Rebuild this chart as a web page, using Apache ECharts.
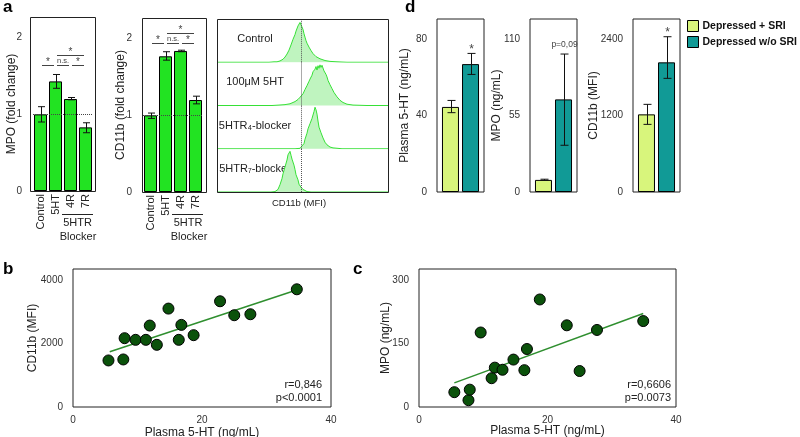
<!DOCTYPE html>
<html><head><meta charset="utf-8">
<script src="https://cdn.jsdelivr.net/npm/echarts@6/dist/echarts.min.js"></script>
<style>html,body{margin:0;padding:0;background:#fff}#c{width:800px;height:437px}</style>
</head><body><div id="c"></div>
<script>
const FONT = '"Liberation Sans", Arial, sans-serif';

// ---------- panel a : fold-change bars ----------
const catsA = ['Control', '5HT', '4R', '7R'];
const mpoFold = [1.0, 1.43, 1.2, 0.83];
const mpoFoldErr = [[0.90, 1.10], [1.34, 1.52], [1.19, 1.22], [0.76, 0.89]];
const cdFold = [1.0, 1.77, 1.84, 1.2];
const cdFoldErr = [[0.96, 1.03], [1.72, 1.83], [1.83, 1.85], [1.15, 1.25]];
// [from, to, level, text]
const sigMpo = [[0, 1, 1.65, '*'], [1, 2, 1.65, 'n.s.'], [2, 3, 1.65, '*'], [1, 3, 1.78, '*']];
const sigCd = [[0, 1, 1.94, '*'], [1, 2, 1.94, 'n.s.'], [2, 3, 1.94, '*'], [1, 3, 2.07, '*']];

// ---------- panel a : flow histograms (CD11b MFI, arbitrary units) ----------
const flowLabels = ['Control', '100\u03bcM 5HT', '5HTR\u2084-blocker', '5HTR\u2087-blocker'];
const histControl = [[0,0],[52,0],[57,1],[60,1],[63,3],[66,7],[68,12],[70,19],[72,28],[74,40],[76,53],[78,64],[79,72],[81,84],[82,88],[83,92],[84,96],[85,89],[86,76],[87,66],[88,58],[89,50],[90,44],[92,35],[94,27],[96,20],[99,13],[103,8],[108,4],[113,2],[120,1],[130,0],[171,0]];
const hist5HT = [[0,0],[55,0],[62,1],[68,2],[73,4],[78,9],[81,14],[83,19],[86,27],[88,37],[90,46],[92,56],[93,61],[95,70],[96,78],[98,84],[99,90],[100,82],[101,92],[102,86],[103,94],[104,88],[105,93],[106,90],[107,80],[108,84],[109,72],[110,66],[111,58],[112,62],[113,48],[115,39],[117,30],[120,20],[123,12],[126,7],[130,3],[136,1],[150,0],[171,0]];
const histR4 = [[0,0],[78,0],[83,1],[85,3],[87,12],[88,22],[90,36],[91,46],[93,58],[95,70],[96,78],[97,86],[98,96],[99,90],[100,80],[101,64],[102,50],[104,37],[106,25],[108,15],[110,9],[113,4],[116,2],[125,0],[171,0]];
const histR7 = [[0,0],[54,0],[58,1],[60,3],[61,6],[63,17],[65,31],[66,42],[68,58],[70,74],[71,86],[72,90],[73,94],[74,85],[75,76],[77,62],[78,52],[79,40],[81,28],[82,18],[84,11],[86,6],[88,3],[90,1],[94,0],[171,0]];
const flowRows = [histControl, hist5HT, histR4, histR7];
const flowRef = 84;

// ---------- panel d ----------
const groups = ['Depressed + SRI', 'Depressed w/o SRI'];
const plasmaD = [44.5, 66.9];
const plasmaErr = [[41.5, 47.9], [61.5, 72.5]];
const mpoD = [8.7, 66.6];
const mpoErr = [[8.3, 9.2], [33.6, 99.2]];
const cdD = [1218, 2034];
const cdErr = [[1061, 1375], [1783, 2436]];
const notesD = [['', '*'], ['', 'p=0,09'], ['', '*']];

// ---------- panels b, c ----------
const plasmaB = [5.5, 7.8, 8.0, 9.7, 11.3, 11.9, 13.0, 14.8, 16.4, 16.8, 18.7, 22.8, 25.0, 27.5, 34.7];
const cd11bB = [1466, 1497, 2167, 2115, 2115, 2565, 1958, 3099, 2115, 2586, 2262, 3330, 2890, 2921, 3707];
const trendB = [[5.7, 1738], [34.2, 3654]];
const plasmaC = [5.5, 7.7, 7.9, 9.6, 11.3, 11.8, 13.0, 14.7, 16.4, 16.8, 18.8, 23.0, 25.0, 27.7, 34.9];
const mpoC = [35, 16, 41, 176, 68, 93, 88, 112, 87, 137, 254, 193, 85, 182, 203];
const trendC = [[5.5, 57], [34.9, 221]];
const statsB = ['r=0,846', 'p<0.0001'];
const statsC = ['r=0,6606', 'p=0.0073'];

// ---------- styles ----------
const GREEN = '#22e322', LIGHT = '#d8f57c', TEAL = '#119a96';
const DOT = '#0b520b', TREND = '#2f8f2f';

const chart = echarts.init(document.getElementById('c'), null, {renderer: 'canvas'});

const grids = [
  {left: 33, top: 17, width: 60, height: 174},
  {left: 143, top: 18, width: 60, height: 174},
];
for (let k = 0; k < 4; k++) grids.push({left: 217, top: 19 + k * 43.25, width: 171, height: 43.25});
grids.push({left: 437, top: 19, width: 47, height: 173, show: true, borderColor: '#222', borderWidth: 1});
grids.push({left: 530, top: 19, width: 47, height: 173, show: true, borderColor: '#222', borderWidth: 1});
grids.push({left: 633, top: 19, width: 47, height: 173, show: true, borderColor: '#222', borderWidth: 1});
grids.push({left: 73, top: 269, width: 258, height: 138, show: true, borderColor: '#222', borderWidth: 1});
grids.push({left: 419, top: 269, width: 257, height: 138, show: true, borderColor: '#222', borderWidth: 1});
grids.forEach(g => { g.containLabel = false; g.outerBoundsMode = 'none'; });

const plain = v => String(v);
const lbl = (extra) => Object.assign({fontSize: 10, color: '#333', fontFamily: FONT, formatter: plain}, extra || {});
const nameStyle = {fontSize: 12, color: '#222', fontFamily: FONT};

function catX(grid, data) {
  return {type: 'category', gridIndex: grid, data: data,
    axisLine: {show: false}, axisTick: {show: false},
    axisLabel: {rotate: 90, margin: 3, fontSize: 11, color: '#222', fontFamily: FONT, interval: 0}};
}
function valY(grid, max, interval, name, gap, margin) {
  return {type: 'value', gridIndex: grid, min: 0, max: max, interval: interval,
    name: name, nameLocation: 'middle', nameGap: gap, nameTextStyle: nameStyle, nameMoveOverlap: false,
    axisLine: {show: false}, axisTick: {show: false}, splitLine: {show: false},
    axisLabel: lbl({margin: margin, showMaxLabel: false})};
}
function valX(grid, name, gap) {
  return {type: 'value', gridIndex: grid, min: 0, max: 40, interval: 20,
    name: name, nameLocation: 'middle', nameGap: gap, nameTextStyle: nameStyle, nameMoveOverlap: false,
    axisLine: {show: false}, axisTick: {show: false}, splitLine: {show: false},
    axisLabel: lbl({margin: 8})};
}

const xAxis = [catX(0, catsA), catX(1, catsA)];
const yAxis = [valY(0, 2.27, 1, 'MPO (fold change)', 15, 11), valY(1, 2.27, 1, 'CD11b (fold change)', 16, 11)];
for (let k = 0; k < 4; k++) {
  xAxis.push({type: 'value', gridIndex: 2 + k, min: 0, max: 171, show: false});
  yAxis.push({type: 'value', gridIndex: 2 + k, min: 0, max: 100, show: false});
}
for (let g = 0; g < 3; g++) xAxis.push({type: 'category', gridIndex: 6 + g, data: ['v'], show: false});
yAxis.push(valY(6, 90.5, 40, 'Plasma 5-HT (ng/mL)', 26, 10));
yAxis.push(valY(7, 124.4, 55, 'MPO (ng/mL)', 27, 10));
yAxis.push(valY(8, 2714, 1200, 'CD11b (MFI)', 33, 10));
xAxis.push(valX(9, 'Plasma 5-HT (ng/mL)', 20));
xAxis.push(valX(10, 'Plasma 5-HT (ng/mL)', 18));
yAxis.push(valY(9, 4346, 2000, 'CD11b (MFI)', 34, 10));
yAxis.push(valY(10, 326, 150, 'MPO (ng/mL)', 27, 10));

function errRender(errs, offs, capHalf, notes) {
  return function (params, api) {
    const k = params.dataIndex;
    const cx = api.value(0);
    const hi = api.coord([cx, errs[k][1]]);
    const lo = api.coord([cx, errs[k][0]]);
    const x = Math.round(hi[0] + offs[k]) + 0.5;
    const st = {stroke: '#111', lineWidth: 1};
    const ch = [
      {type: 'line', shape: {x1: x, y1: hi[1], x2: x, y2: lo[1]}, style: st},
      {type: 'line', shape: {x1: x - capHalf, y1: hi[1], x2: x + capHalf, y2: hi[1]}, style: st},
      {type: 'line', shape: {x1: x - capHalf, y1: lo[1], x2: x + capHalf, y2: lo[1]}, style: st}
    ];
    if (notes && notes[k]) {
      const star = notes[k] === '*';
      ch.push({type: 'text', style: {text: notes[k], x: x, y: hi[1] - (star ? 4 : 9),
        align: 'center', verticalAlign: 'middle', fill: '#444',
        font: (star ? '12px ' : '8.5px ') + FONT}});
    }
    return {type: 'group', children: ch};
  };
}
function sigRender(sig) {
  return function (params, api) {
    const s = sig[params.dataIndex];
    const a = api.coord([s[0], s[2]]);
    const b = api.coord([s[1], s[2]]);
    const y = Math.round(a[1]) + 0.5;
    const star = s[3] === '*';
    return {type: 'group', children: [
      {type: 'line', shape: {x1: a[0] + 1.5, y1: y, x2: b[0] - 1.5, y2: y}, style: {stroke: '#444', lineWidth: 1}},
      {type: 'text', style: {text: s[3], x: (a[0] + b[0]) / 2, y: y - (star ? 3.5 : 4.5),
        align: 'center', verticalAlign: 'middle', fill: '#444', font: (star ? '10px ' : '7.5px ') + FONT}}
    ]};
  };
}

const series = [];
[[mpoFold, mpoFoldErr, sigMpo], [cdFold, cdFoldErr, sigCd]].forEach((set, g) => {
  series.push({type: 'bar', xAxisIndex: g, yAxisIndex: g, data: set[0], barWidth: 13,
    itemStyle: {color: GREEN, borderColor: '#000', borderWidth: 1},
    markLine: {silent: true, symbol: 'none', label: {show: false},
      lineStyle: {type: 'dotted', color: '#444', width: 1}, data: [{yAxis: 1}]}});
  series.push({type: 'custom', xAxisIndex: g, yAxisIndex: g, z: 5,
    data: set[1].map((e, i) => [i, e[0], e[1]]), encode: {x: 0, y: [1, 2]},
    renderItem: errRender(set[1], [0, 0, 0, 0], 3.5, null)});
  series.push({type: 'custom', xAxisIndex: g, yAxisIndex: g, z: 5,
    data: set[2].map(s => [s[0], s[2]]), encode: {x: 0, y: 1},
    renderItem: sigRender(set[2])});
});
flowRows.forEach((h, k) => {
  series.push({type: 'line', xAxisIndex: 2 + k, yAxisIndex: 2 + k, data: h, showSymbol: false, symbol: 'none',
    lineStyle: {color: '#36e036', width: 1}, areaStyle: {color: '#bff4bf', opacity: 1},
    markLine: {silent: true, symbol: 'none', label: {show: false},
      lineStyle: {type: 'dotted', color: '#555', width: 1}, data: [{xAxis: flowRef}]}});
});
[[plasmaD, plasmaErr], [mpoD, mpoErr], [cdD, cdErr]].forEach((set, g) => {
  groups.forEach((name, k) => {
    series.push({type: 'bar', name: name, xAxisIndex: 6 + g, yAxisIndex: 6 + g, data: [set[0][k]],
      barWidth: 17, barGap: '18%',
      itemStyle: {color: k === 0 ? LIGHT : TEAL, borderColor: '#000', borderWidth: 1}});
  });
  series.push({type: 'custom', xAxisIndex: 6 + g, yAxisIndex: 6 + g, z: 5,
    data: set[1].map(e => [0, e[0], e[1]]), encode: {x: 0, y: [1, 2]},
    renderItem: errRender(set[1], [-10, 10], 4, notesD[g])});
});
[[plasmaB, cd11bB, trendB], [plasmaC, mpoC, trendC]].forEach((set, g) => {
  series.push({type: 'line', xAxisIndex: 9 + g, yAxisIndex: 9 + g, data: set[2], showSymbol: false, symbol: 'none',
    lineStyle: {color: TREND, width: 1.5}, z: 2});
  series.push({type: 'scatter', xAxisIndex: 9 + g, yAxisIndex: 9 + g, z: 3,
    data: set[0].map((x, i) => [x, set[1][i]]), symbolSize: 11,
    itemStyle: {color: DOT, borderColor: '#000', borderWidth: 1, opacity: 1}});
});

const txt = (x, y, text, font, align, extra) => ({type: 'text', x: x, y: y, silent: true,
  style: Object.assign({text: text, font: font, fill: '#222', align: align || 'center', verticalAlign: 'middle'}, extra || {})});
const box = (x, y, w, h) => ({type: 'rect', silent: true, shape: {x: x + 0.5, y: y + 0.5, width: w, height: h},
  style: {fill: 'none', stroke: '#222', lineWidth: 1}, z: 10});
const hline = (x1, x2, y) => ({type: 'line', silent: true, shape: {x1: x1, y1: y + 0.5, x2: x2, y2: y + 0.5},
  style: {stroke: '#222', lineWidth: 1}});

const graphic = [
  box(30, 17, 65, 174), box(142, 18, 64, 174), box(217, 19, 171, 173),
  hline(62, 93, 214), txt(77.5, 223, '5HTR', '11px ' + FONT), txt(78, 237, 'Blocker', '11px ' + FONT),
  hline(172, 203, 214), txt(188, 223, '5HTR', '11px ' + FONT), txt(189, 237, 'Blocker', '11px ' + FONT),
  txt(299, 203, 'CD11b (MFI)', '9.5px ' + FONT),
  txt(3, 7, 'a', 'bold 17px ' + FONT, 'left', {fill: '#000'}),
  txt(405, 7, 'd', 'bold 17px ' + FONT, 'left', {fill: '#000'}),
  txt(3, 269, 'b', 'bold 17px ' + FONT, 'left', {fill: '#000'}),
  txt(353, 269, 'c', 'bold 17px ' + FONT, 'left', {fill: '#000'}),
  txt(322, 385, statsB[0], '11px ' + FONT, 'right'), txt(322, 398, statsB[1], '11px ' + FONT, 'right'),
  txt(671, 385, statsC[0], '11px ' + FONT, 'right'), txt(671, 398, statsC[1], '11px ' + FONT, 'right')
];
flowLabels.forEach((t, k) => graphic.push(txt(255, 19 + k * 43.25 + 20, t, '11px ' + FONT)));

chart.setOption({
  animation: false,
  backgroundColor: '#fff',
  textStyle: {fontFamily: FONT},
  grid: grids, xAxis: xAxis, yAxis: yAxis, series: series, graphic: graphic,
  legend: {data: groups, left: 687, top: 20, orient: 'vertical', itemWidth: 11, itemHeight: 11, itemGap: 4,
    icon: 'rect', padding: 0, selectedMode: false,
    itemStyle: {borderColor: '#000', borderWidth: 1},
    textStyle: {fontSize: 10.5, fontWeight: 'bold', color: '#111', fontFamily: FONT, padding: [0, 0, 0, -1]}}
});
</script></body></html>
